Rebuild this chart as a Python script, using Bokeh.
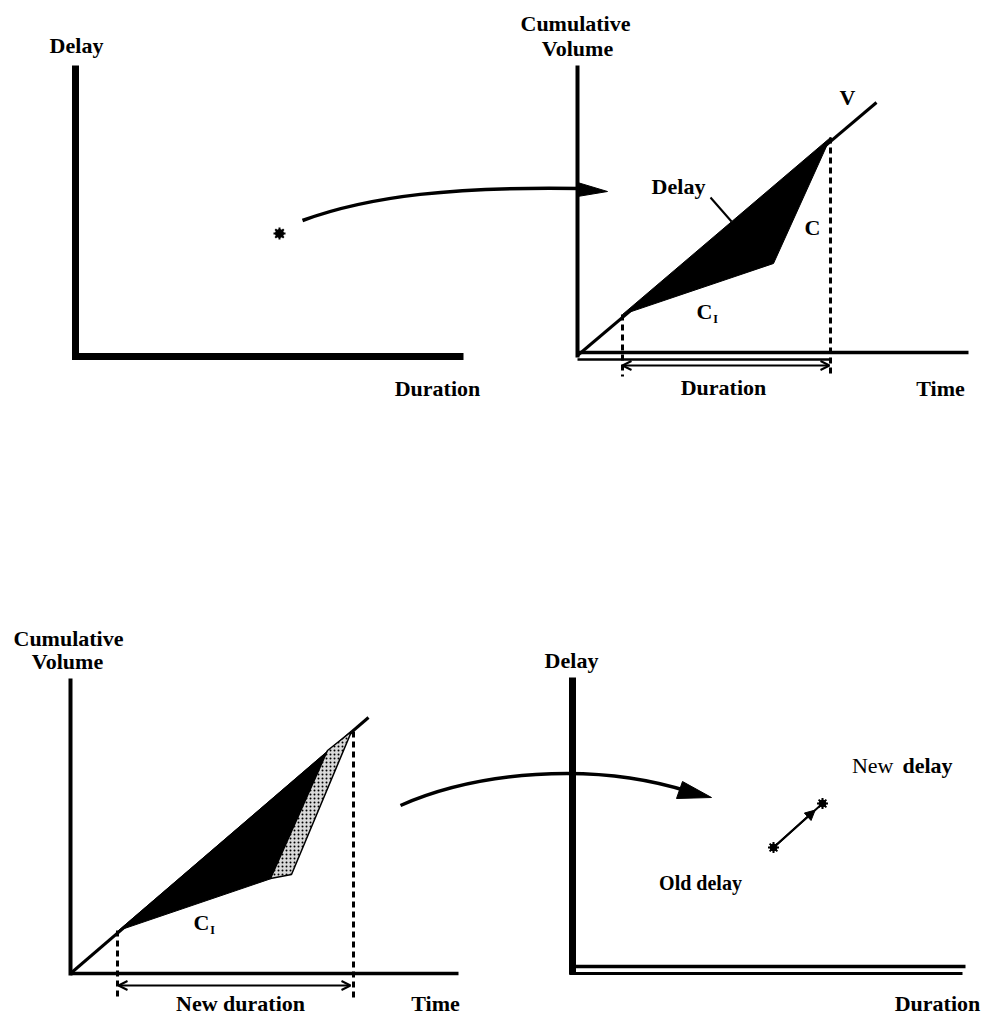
from bokeh.plotting import figure
from bokeh.models import Range1d, Arrow, OpenHead, NormalHead
from bokeh.core.properties import value
from bokeh.embed import file_html
from bokeh.resources import INLINE

# ---------------- diagram data (reference-pixel coordinates) ----------------
# Panel 1: Delay vs Duration (top left)
P1_AXIS_X = [75, 75, 463]
P1_AXIS_Y = [65, 356, 356]
P1_POINT_X = [279]
P1_POINT_Y = [233]

# Curved arrow from panel 1 to panel 2
ARC1_X = [302, 370, 455, 580]   # start, ctrl1, ctrl2, end
ARC1_Y = [220, 195, 186, 188]
HEAD1_X = [577, 577, 607]
HEAD1_Y = [182, 196, 191]

# Panel 2: cumulative volume vs time (top right)
P2_YAXIS_X = [577, 577]
P2_YAXIS_Y = [65, 357]
P2_XAXIS_X = [577, 968]
P2_XAXIS_Y = [352, 352]
P2_XAXIS2_X = [577, 830]
P2_XAXIS2_Y = [359, 359]
P2_V_X = [577, 876]
P2_V_Y = [355, 102]
P2_DELAY_X = [622, 830, 773]
P2_DELAY_Y = [314, 137, 263]
P2_DASH_X = [[622, 622], [830, 830]]
P2_DASH_Y = [[314, 376], [137, 376]]
P2_DUR_X = [622, 829]
P2_DUR_Y = [365, 365]
P2_LEADER_X = [710, 731]
P2_LEADER_Y = [197, 221]

# Panel 3: cumulative volume vs time, new duration (bottom left)
P3_YAXIS_X = [70, 70]
P3_YAXIS_Y = [678, 975]
P3_XAXIS_X = [70, 458]
P3_XAXIS_Y = [973, 973]
P3_V_X = [70, 368]
P3_V_Y = [973, 717]
P3_DELAY_X = [118, 329, 271]
P3_DELAY_Y = [930, 749, 878]
P3_EXTRA_X = [327, 351, 291, 270]
P3_EXTRA_Y = [750, 731, 874, 878]
P3_DASH_X = [[117, 117], [353, 353]]
P3_DASH_Y = [[930, 998], [731, 998]]
P3_DUR_X = [118, 350]
P3_DUR_Y = [985, 985]

# Curved arrow from panel 3 to panel 4
ARC2_X = [400, 475, 590, 688]
ARC2_Y = [805, 772, 760, 791]
HEAD2_X = [682, 676, 711]
HEAD2_Y = [781, 798, 797]

# Panel 4: Delay vs Duration with old/new delay (bottom right)
P4_YAXIS_X = [572, 572]
P4_YAXIS_Y = [677, 974]
P4_XAXIS_X = [569, 965]
P4_XAXIS_Y = [966, 966]
P4_XAXIS2_X = [569, 962]
P4_XAXIS2_Y = [973, 973]
P4_POINT_X = [773, 822]   # old delay, new delay
P4_POINT_Y = [847, 803]

# Labels
BOLD_TEXT = ["Delay", "Duration", "Cumulative", "Volume", "V", "Delay", "C", "C",
             "Duration", "Time", "Cumulative", "Volume", "C", "New duration", "Time",
             "Delay", "Duration"]
BOLD_X = [76, 437, 575, 577, 847, 678, 812, 704, 723, 940, 68, 67, 201, 240, 435, 571, 937]
BOLD_Y = [45, 388, 23, 48, 97, 186, 227, 311, 387, 388, 638, 661, 922, 1003, 1003, 660, 1003]
SUB_TEXT = ["I", "I"]
SUB_X = [715, 212]
SUB_Y = [318, 929]
OLD_TEXT = ["Old delay"]
OLD_X = [700]
OLD_Y = [882]
NEW_REG_TEXT = ["New"]
NEW_REG_X = [893]
NEW_BOLD_TEXT = ["delay"]
NEW_BOLD_X = [902]
NEW_Y = [765]

# ---------------------------------------------------------------------------
SERIF = value("Liberation Serif")
BLACK = "#000000"

W, H = 985, 1016
p = figure(width=W, height=H, x_range=Range1d(0, W), y_range=Range1d(H, 0),
           output_backend="svg", toolbar_location=None, min_border=0)
p.axis.visible = False
p.grid.visible = False
p.outline_line_color = None
p.background_fill_color = "white"
p.border_fill_color = "white"

# Panel 1
p.line(P1_AXIS_X, P1_AXIS_Y, line_width=7, line_color=BLACK, line_join="miter")
p.scatter(P1_POINT_X, P1_POINT_Y, marker="circle", size=8, color=BLACK)
p.scatter(P1_POINT_X, P1_POINT_Y, marker="asterisk", size=12, line_width=2, line_color=BLACK)

# Arc 1
p.bezier(x0=[ARC1_X[0]], y0=[ARC1_Y[0]], cx0=[ARC1_X[1]], cy0=[ARC1_Y[1]],
         cx1=[ARC1_X[2]], cy1=[ARC1_Y[2]], x1=[ARC1_X[3]], y1=[ARC1_Y[3]],
         line_width=3.5, line_color=BLACK)
p.patch(HEAD1_X, HEAD1_Y, color=BLACK)

# Panel 2
p.line(P2_YAXIS_X, P2_YAXIS_Y, line_width=4, line_color=BLACK)
p.line(P2_XAXIS_X, P2_XAXIS_Y, line_width=3.5, line_color=BLACK)
p.line(P2_XAXIS2_X, P2_XAXIS2_Y, line_width=2.5, line_color=BLACK)
p.line(P2_V_X, P2_V_Y, line_width=3, line_color=BLACK)
p.patch(P2_DELAY_X, P2_DELAY_Y, color=BLACK, line_width=1)
p.multi_line(P2_DASH_X, P2_DASH_Y, line_width=3, line_color=BLACK, line_dash="6 4")
p.add_layout(Arrow(x_start=P2_DUR_X[0], y_start=P2_DUR_Y[0], x_end=P2_DUR_X[1], y_end=P2_DUR_Y[1],
                   line_width=2, line_color=BLACK,
                   start=OpenHead(size=9, line_width=2, line_color=BLACK),
                   end=OpenHead(size=9, line_width=2, line_color=BLACK)))
p.line(P2_LEADER_X, P2_LEADER_Y, line_width=2, line_color=BLACK)

# Panel 3
p.line(P3_YAXIS_X, P3_YAXIS_Y, line_width=4, line_color=BLACK)
p.line(P3_XAXIS_X, P3_XAXIS_Y, line_width=3.5, line_color=BLACK)
p.line(P3_V_X, P3_V_Y, line_width=3, line_color=BLACK)
p.patch(P3_DELAY_X, P3_DELAY_Y, color=BLACK, line_width=1)
p.patch(P3_EXTRA_X, P3_EXTRA_Y, fill_color="#d9d9d9", line_color=BLACK, line_width=1.5,
        hatch_pattern="dot", hatch_color=BLACK, hatch_scale=4, hatch_weight=1.5)
p.multi_line(P3_DASH_X, P3_DASH_Y, line_width=3, line_color=BLACK, line_dash="6 4")
p.add_layout(Arrow(x_start=P3_DUR_X[0], y_start=P3_DUR_Y[0], x_end=P3_DUR_X[1], y_end=P3_DUR_Y[1],
                   line_width=2, line_color=BLACK,
                   start=OpenHead(size=9, line_width=2, line_color=BLACK),
                   end=OpenHead(size=9, line_width=2, line_color=BLACK)))

# Arc 2
p.bezier(x0=[ARC2_X[0]], y0=[ARC2_Y[0]], cx0=[ARC2_X[1]], cy0=[ARC2_Y[1]],
         cx1=[ARC2_X[2]], cy1=[ARC2_Y[2]], x1=[ARC2_X[3]], y1=[ARC2_Y[3]],
         line_width=3.5, line_color=BLACK)
p.patch(HEAD2_X, HEAD2_Y, color=BLACK)

# Panel 4
p.line(P4_YAXIS_X, P4_YAXIS_Y, line_width=7, line_color=BLACK)
p.line(P4_XAXIS_X, P4_XAXIS_Y, line_width=3.5, line_color=BLACK)
p.line(P4_XAXIS2_X, P4_XAXIS2_Y, line_width=3, line_color=BLACK)
p.line(P4_POINT_X, P4_POINT_Y, line_width=2, line_color=BLACK)
p.add_layout(Arrow(x_start=P4_POINT_X[0], y_start=P4_POINT_Y[0],
                   x_end=(P4_POINT_X[0] + 0.85 * (P4_POINT_X[1] - P4_POINT_X[0])),
                   y_end=(P4_POINT_Y[0] + 0.85 * (P4_POINT_Y[1] - P4_POINT_Y[0])),
                   line_width=2, line_color=BLACK,
                   end=NormalHead(size=10, fill_color=BLACK, line_color=BLACK)))
p.scatter(P4_POINT_X, P4_POINT_Y, marker="circle", size=7, color=BLACK)
p.scatter(P4_POINT_X, P4_POINT_Y, marker="asterisk", size=11, line_width=2, line_color=BLACK)

# Text
p.text(BOLD_X, BOLD_Y, text=BOLD_TEXT, text_font=SERIF, text_font_style="bold",
       text_font_size="22px", text_align="center", text_baseline="middle", text_color=BLACK)
p.text(SUB_X, SUB_Y, text=SUB_TEXT, text_font=SERIF, text_font_style="bold",
       text_font_size="12px", text_align="center", text_baseline="middle", text_color=BLACK)
p.text(OLD_X, OLD_Y, text=OLD_TEXT, text_font=SERIF, text_font_style="bold",
       text_font_size="20px", text_align="center", text_baseline="middle", text_color=BLACK)
p.text(NEW_REG_X, NEW_Y, text=NEW_REG_TEXT, text_font=SERIF, text_font_style="normal",
       text_font_size="22px", text_align="right", text_baseline="middle", text_color=BLACK)
p.text(NEW_BOLD_X, NEW_Y, text=NEW_BOLD_TEXT, text_font=SERIF, text_font_style="bold",
       text_font_size="22px", text_align="left", text_baseline="middle", text_color=BLACK)

open("out.html", "w").write(file_html(p, INLINE))
